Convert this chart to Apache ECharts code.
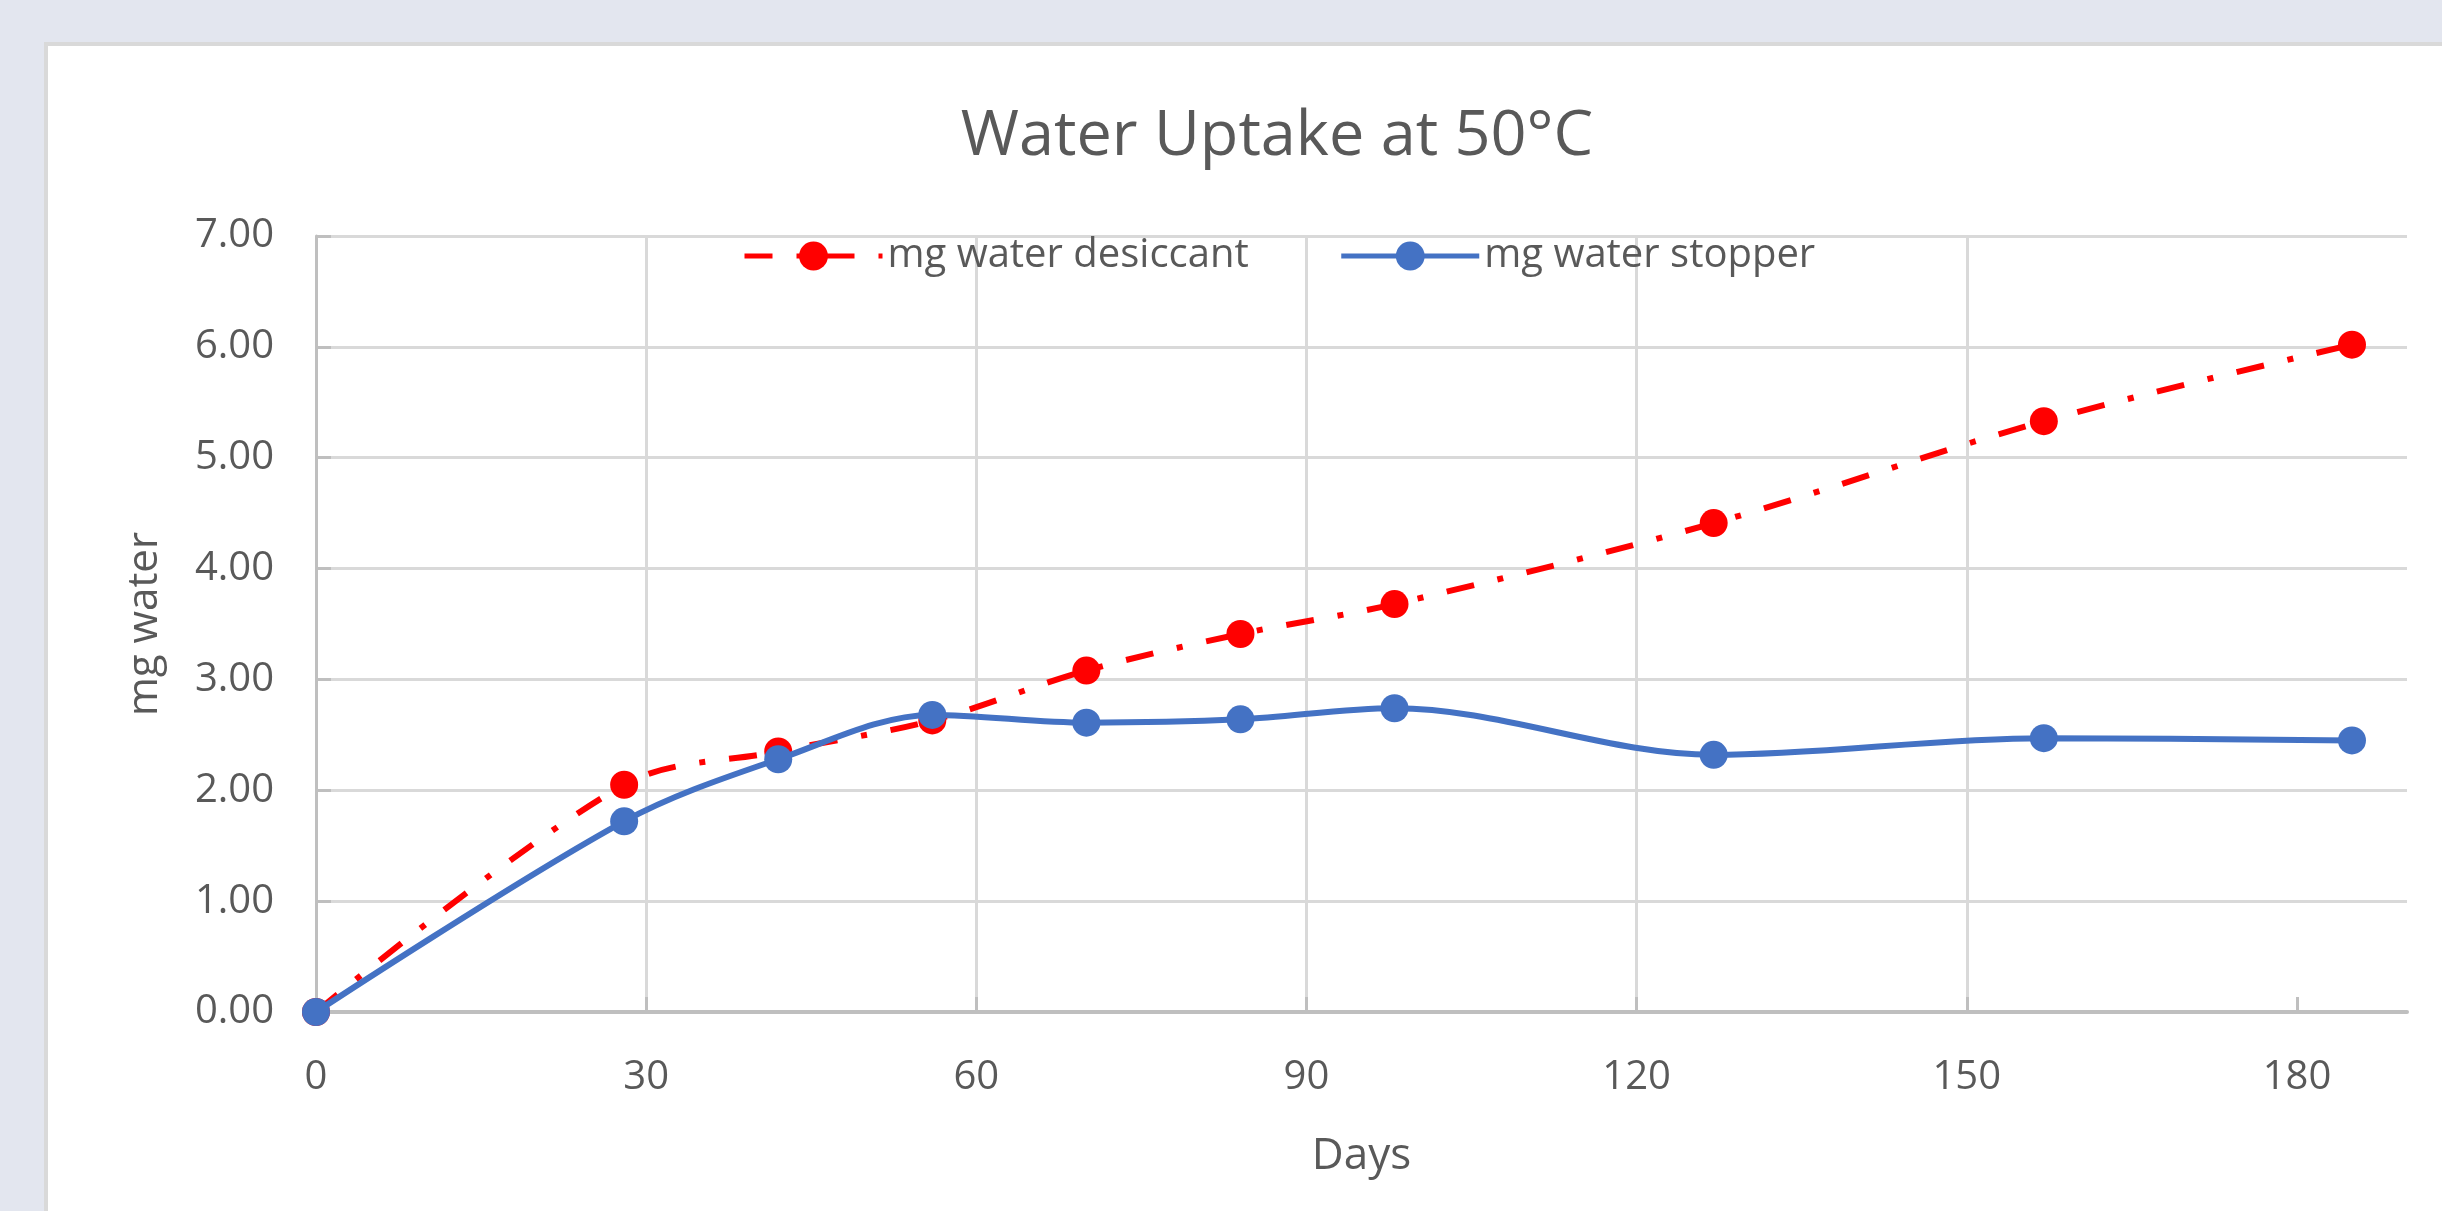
<!DOCTYPE html>
<html>
<head>
<meta charset="utf-8">
<title>Water Uptake at 50°C</title>
<script src="https://cdn.jsdelivr.net/npm/echarts@6/dist/echarts.min.js"></script>
<style>
    html, body {
        margin: 0;
        padding: 0;
        width: 2442px;
        height: 1211px;
        overflow: hidden;
        background: #e3e6ef;
    }
    #card {
        position: absolute;
        left: 44px;
        top: 42px;
        width: 2600px;
        height: 1400px;
        background: #fff;
        border-top: 4px solid #d9d9d9;
        border-left: 4px solid #d9d9d9;
    }
    #chart {
        position: absolute;
        left: 0;
        top: 0;
        width: 2442px;
        height: 1211px;
    }
</style>
</head>
<body>
<div id="card"></div>
<div id="chart"></div>
<script>
// values
const days = [0, 28, 42, 56, 70, 84, 98, 127, 157, 185];
const desiccant = [0, 2.05, 2.35, 2.63, 3.08, 3.41, 3.68, 4.41, 5.33, 6.02];
const stopper = [0, 1.72, 2.28, 2.68, 2.61, 2.64, 2.74, 2.32, 2.47, 2.45];

const xTicks = [0, 30, 60, 90, 120, 150, 180];
const yTicks = [0, 1, 2, 3, 4, 5, 6, 7];

const textColor = '#595959';
const font = '"Open Sans", "Noto Sans", sans-serif';

const chart = echarts.init(document.getElementById('chart'), null, { renderer: 'canvas' });

const option = {
    animation: false,
    backgroundColor: 'transparent',
    textStyle: { fontFamily: font },
    title: {
        text: 'Water Uptake at 50°C',
        left: 1272,
        top: 101,
        textAlign: 'center',
        textStyle: {
            fontFamily: font,
            fontSize: 63,
            fontWeight: 'normal',
            color: textColor
        }
    },
    legend: {
        left: 737,
        top: 231,
        itemWidth: 138,
        itemHeight: 36,
        itemGap: 90,
        lineStyle: { width: 5 },
        textStyle: {
            fontFamily: font,
            fontSize: 40,
            color: textColor
        },
        data: ['mg water desiccant', 'mg water stopper']
    },
    grid: {
        left: 316,
        top: 236,
        right: 35,
        bottom: 199,
        containLabel: false
    },
    xAxis: {
        type: 'value',
        min: 0,
        max: 190,
        interval: 30,
        name: 'Days',
        nameLocation: 'middle',
        nameGap: 122,
        nameTextStyle: { fontFamily: font, fontSize: 44, color: textColor },
        axisLine: { show: true, onZero: true, lineStyle: { color: '#bfbfbf', width: 4 } },
        axisTick: { show: true, inside: true, length: 15, customValues: xTicks, lineStyle: { color: '#bfbfbf', width: 3 } },
        axisLabel: {
            customValues: xTicks,
            margin: 46,
            fontSize: 40,
            color: textColor,
            fontFamily: font
        },
        splitLine: { show: true, showMaxLine: false, lineStyle: { color: '#d9d9d9', width: 3 } }
    },
    yAxis: {
        type: 'value',
        min: 0,
        max: 7,
        interval: 1,
        name: 'mg water',
        nameLocation: 'middle',
        nameGap: 150,
        nameTextStyle: { fontFamily: font, fontSize: 42, color: textColor },
        axisLine: { show: true, lineStyle: { color: '#bfbfbf', width: 3 } },
        axisTick: { show: true, inside: true, length: 15, customValues: yTicks, lineStyle: { color: '#bfbfbf', width: 3 } },
        axisLabel: {
            customValues: yTicks,
            margin: 42,
            fontSize: 40,
            color: textColor,
            fontFamily: font,
            formatter: v => v.toFixed(2)
        },
        splitLine: { show: true, lineStyle: { color: '#d9d9d9', width: 3 } }
    },
    series: [
        {
            name: 'mg water desiccant',
            type: 'line',
            data: days.map((d, i) => [d, desiccant[i]]),
            smooth: 0.33,
            symbol: 'circle',
            symbolSize: 28,
            itemStyle: { color: '#ff0000' },
            lineStyle: { color: '#ff0000', width: 6, type: [28, 24, 6, 24], cap: 'butt' },
            z: 2
        },
        {
            name: 'mg water stopper',
            type: 'line',
            data: days.map((d, i) => [d, stopper[i]]),
            smooth: 0.33,
            symbol: 'circle',
            symbolSize: 28,
            itemStyle: { color: '#4472c4' },
            lineStyle: { color: '#4472c4', width: 6, type: 'solid' },
            z: 3
        }
    ]
};

chart.setOption(option);
</script>
</body>
</html>
